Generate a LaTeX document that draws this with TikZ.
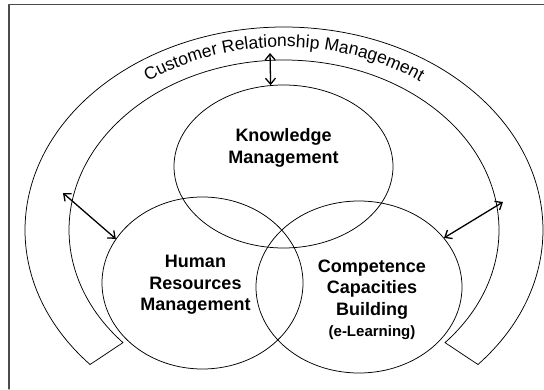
\documentclass[tikz,border=0pt]{standalone}
\usepackage{fontspec}
\setmainfont{Liberation Sans}
\usetikzlibrary{arrows.meta}
\usetikzlibrary{shapes.geometric}
\usetikzlibrary{decorations.text}
\usetikzlibrary{calc}
\newcommand{\crmfont}{\fontsize{17.5}{20}\selectfont}

\begin{document}
\begin{tikzpicture}[line cap=round,line join=round,x=1pt,y=1pt,
  circ/.style={draw,ellipse,inner sep=0pt,line width=0.75pt},
  lbl/.style={font=\fontsize{18}{21.5}\selectfont\bfseries,align=center},
  link/.style={arrows={Straight Barb[length=6pt,width=10pt]-Straight Barb[length=6pt,width=10pt]},line width=1.3pt}]
\useasboundingbox (0,0) rectangle (544,389);
% frame
\draw[line width=1.3pt,color=black!70] (9,0) -- (9,384.5) -- (544,384.5);
% CRM band
\coordinate (ctr) at (284,159);
\draw[line width=0.75pt] ($(ctr)+(221.5:259 and 203)$) arc[start angle=221.5,end angle=-41.5,x radius=259,y radius=203]
  -- ($(ctr)+(-41.5:215 and 170)$) arc[start angle=-41.5,end angle=221.5,x radius=215,y radius=170] -- cycle;
\path[decorate,decoration={text along path,text align=center,
  text={|\crmfont|Customer Relationship Management}}]
  ($(ctr)+(160:232 and 183)$) arc[start angle=160,end angle=20,x radius=232,y radius=183];
% the three fields
\node[circ,minimum width=219pt,minimum height=163pt] (km) at (283.5,222.5) {};
\node[circ,minimum width=201pt,minimum height=172pt] (hrm) at (202.5,106) {};
\node[circ,minimum width=206pt,minimum height=172pt] (ccb) at (359,102) {};
\node[lbl] (kmText) at ([yshift=18.5pt]km.center) {Knowledge\\Management};
\node[lbl] (hrmText) at ([xshift=-7pt,yshift=-2pt]hrm.center) {Human\\Resources\\Management};
\node[lbl] (ccbText) at ([xshift=13pt,yshift=-13pt]ccb.center) {Competence\\Capacities\\Building\\{\fontsize{15}{18}\selectfont (e-Learning)}};
% links to the CRM band
\coordinate (kmEnd) at (270,336);
\coordinate (hrmEnd) at (63,196);
\coordinate (ccbEnd) at (503,187);
\draw[link] (kmEnd) -- (km.99);
\draw[link] (hrmEnd) -- (hrm.153);
\draw[link] (ccbEnd) -- (ccb.30);
\end{tikzpicture}
\end{document}
